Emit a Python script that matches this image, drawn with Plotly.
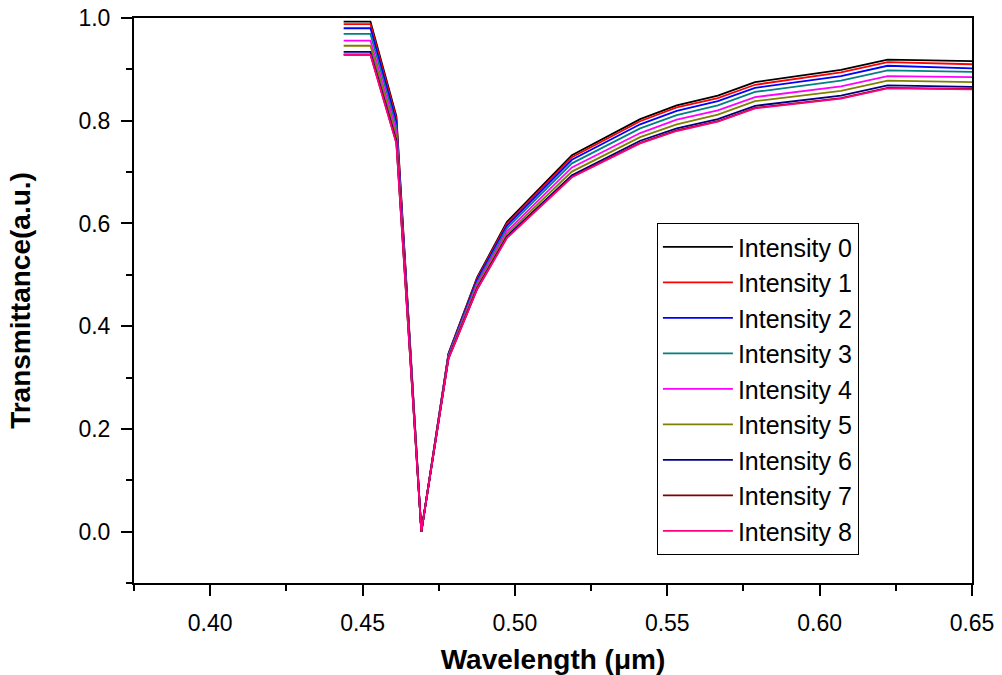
import plotly.graph_objects as go

wavelength = [0.4438, 0.4526, 0.4611, 0.4693, 0.4782, 0.4876, 0.4974, 0.5187,
              0.5411, 0.5531, 0.5666, 0.5788, 0.6070, 0.6223, 0.6500]

intensity_0 = [0.993, 0.993, 0.809, 0.0, 0.347, 0.495, 0.603, 0.733, 0.803, 0.830, 0.849, 0.875, 0.899, 0.919, 0.916]
intensity_1 = [0.988, 0.988, 0.804, 0.0, 0.346, 0.493, 0.600, 0.729, 0.799, 0.826, 0.844, 0.870, 0.894, 0.914, 0.910]
intensity_2 = [0.980, 0.980, 0.797, 0.0, 0.345, 0.490, 0.596, 0.724, 0.793, 0.819, 0.838, 0.864, 0.887, 0.907, 0.902]
intensity_3 = [0.969, 0.969, 0.789, 0.0, 0.343, 0.486, 0.591, 0.717, 0.785, 0.811, 0.830, 0.856, 0.878, 0.898, 0.895]
intensity_4 = [0.956, 0.956, 0.779, 0.0, 0.341, 0.482, 0.585, 0.709, 0.776, 0.802, 0.820, 0.846, 0.867, 0.887, 0.885]
intensity_5 = [0.946, 0.946, 0.770, 0.0, 0.340, 0.478, 0.580, 0.701, 0.768, 0.793, 0.812, 0.838, 0.858, 0.878, 0.875]
intensity_6 = [0.934, 0.934, 0.761, 0.0, 0.338, 0.474, 0.575, 0.694, 0.761, 0.785, 0.803, 0.829, 0.849, 0.869, 0.866]
intensity_7 = [0.929, 0.929, 0.757, 0.0, 0.337, 0.472, 0.573, 0.691, 0.757, 0.781, 0.799, 0.825, 0.844, 0.864, 0.862]
intensity_8 = [0.928, 0.928, 0.756, 0.0, 0.337, 0.472, 0.572, 0.690, 0.756, 0.780, 0.798, 0.824, 0.843, 0.863, 0.861]

series_names = ["Intensity 0", "Intensity 1", "Intensity 2", "Intensity 3", "Intensity 4",
                "Intensity 5", "Intensity 6", "Intensity 7", "Intensity 8"]
series_values = [intensity_0, intensity_1, intensity_2, intensity_3, intensity_4,
                 intensity_5, intensity_6, intensity_7, intensity_8]
colors = ["#000000", "#FF0000", "#0000FF", "#008080", "#FF00FF",
          "#808000", "#000080", "#800000", "#FF0080"]

FONT = "Arial, Liberation Sans, sans-serif"

fig = go.Figure()
for name, vals, col in zip(series_names, series_values, colors):
    fig.add_trace(go.Scatter(x=wavelength, y=vals, mode="lines", name=name,
                             line=dict(color=col, width=1.8)))

axis_font = dict(family=FONT, size=23, color="black")
fig.update_layout(
    width=1002, height=675,
    margin=dict(l=134, r=30, t=18, b=92, autoexpand=False),
    paper_bgcolor="white", plot_bgcolor="white",
    font=dict(family=FONT, color="black"),
    showlegend=True,
    legend=dict(x=0.624, y=0.343, xanchor="left", yanchor="middle",
                bgcolor="white", bordercolor="black", borderwidth=1,
                itemwidth=70,
                font=dict(family=FONT, size=25, color="black"),
                tracegroupgap=0),
)
fig.update_xaxes(
    automargin=False,
    range=[0.375, 0.65], tick0=0.4, dtick=0.05, tickformat=".2f",
    ticks="outside", ticklen=11, tickwidth=2, tickcolor="black",
    ticklabelstandoff=7,
    minor=dict(dtick=0.025, tick0=0.375, ticks="outside", ticklen=6, tickwidth=2, tickcolor="black"),
    showline=True, linecolor="black", linewidth=2, mirror=True,
    showgrid=False, zeroline=False, tickfont=axis_font,
    title=dict(text="<b>Wavelength (μm)</b>", font=dict(family=FONT, size=28, color="black"), standoff=16),
)
fig.update_yaxes(
    automargin=False,
    range=[-0.1, 1.0], tick0=0.0, dtick=0.2, tickformat=".1f",
    ticks="outside", ticklen=11, tickwidth=2, tickcolor="black",
    ticklabelstandoff=6,
    minor=dict(dtick=0.1, ticks="outside", ticklen=6, tickwidth=2, tickcolor="black"),
    showline=True, linecolor="black", linewidth=2, mirror=True,
    showgrid=False, zeroline=False, tickfont=axis_font,
    title=dict(text="<b>Transmittance(a.u.)</b>", font=dict(family=FONT, size=28, color="black"), standoff=40),
)

fig.write_html("out.html")
